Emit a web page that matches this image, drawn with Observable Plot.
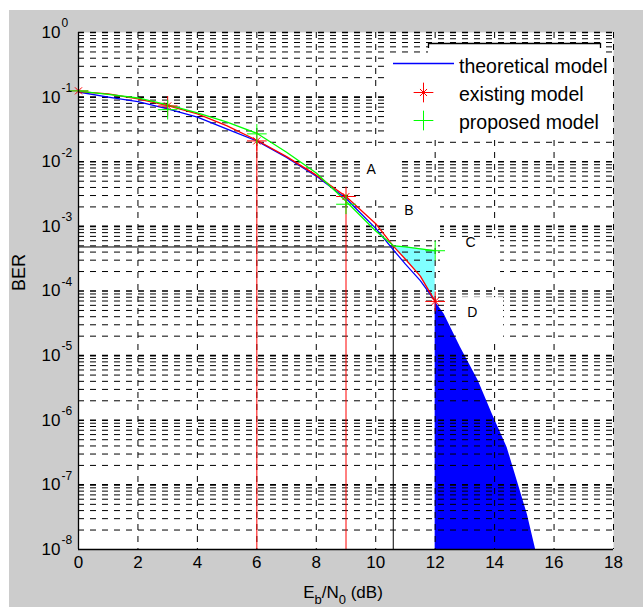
<!DOCTYPE html>
<html>
<head>
<meta charset="utf-8">
<script src="https://cdn.jsdelivr.net/npm/d3@7"></script>
<script src="https://cdn.jsdelivr.net/npm/@observablehq/plot@0.6"></script>
<style>
html, body { margin: 0; padding: 0; background: #ffffff; }
#chart { position: absolute; left: 9px; top: 10px; }
</style>
</head>
<body>
<div id="chart"></div>
<script>
// ---------- data ----------
const xTicks = [0, 2, 4, 6, 8, 10, 12, 14, 16, 18];
const yExponents = [0, -1, -2, -3, -4, -5, -6, -7, -8];

const snr = [0, 1, 2, 3, 4, 5, 6, 7, 8, 9, 10, 10.6, 11, 11.5, 12];
const theoretical = [0.12, 0.1, 0.085, 0.066, 0.049, 0.032, 0.021, 0.0117, 0.006, 0.0027, 0.00093, 0.00043, 0.00026, 0.000145, 0.00007];
const existing = [0.122, 0.112, 0.094, 0.074, 0.055, 0.036, 0.0215, 0.012, 0.0062, 0.0029, 0.0011, 0.00049, 0.00031, 0.00017, 0.000069];
const proposed = [0.124, 0.11, 0.097, 0.076, 0.057, 0.041, 0.0276, 0.014, 0.0067, 0.00245, 0.00085, 0.0005, 0.00048, 0.00045, 0.00042];

const markerSnr = [0, 3, 6, 9, 12];
const existingMarkers = [0.125, 0.073, 0.021, 0.0029, 0.000069];
const proposedMarkers = [0.125, 0.064, 0.027, 0.0022, 0.00042];

const thresholdSnr = 10.59;
const thresholdBER = 0.00048;
const dropSnr = [6, 9];
const dropBER = [0.021, 0.0029];

const gapSnr = [10.6, 11, 11.5, 12];
const gapLow = [0.00049, 0.00031, 0.00017, 0.000069];
const gapHigh = [0.0005, 0.00048, 0.00045, 0.00042];

const tailSnr = [12, 12.3, 12.85, 13.45, 13.92, 14.42, 14.76, 15.1, 15.38];
const tailBER = [6.9e-5, 4.4e-5, 1.35e-5, 4.1e-6, 1.25e-6, 3.8e-7, 1.16e-7, 3.5e-8, 1e-8];

const pointLabels = ["A", "B", "C", "D"];
const labelSnr = [9.85, 11.12, 13.19, 13.25];
const labelBER = [0.0075, 0.00173, 0.000557, 0.0000468];
const labelBoxX1 = [9.56, 10.83, 12.18, 12.92];
const labelBoxX2 = [10.83, 12.18, 14.2, 14.3];
const labelBoxTop = [0.0139, 0.00279, 0.000646, 0.000079];
const labelBoxBottom = [0.0025, 0.000603, 0.000113, 0.000017];

const legendLabels = ["theoretical model", "existing model", "proposed model"];

// ---------- derived tables ----------
const curve = (xs, ys) => xs.map((x, i) => ({x, y: ys[i]}));
const theoData = curve(snr, theoretical);
const existData = curve(snr, existing);
const propData = curve(snr, proposed);
const existMk = curve(markerSnr, existingMarkers);
const propMk = curve(markerSnr, proposedMarkers);
const drops = curve(dropSnr, dropBER);
const gapData = gapSnr.map((x, i) => ({x, lo: gapLow[i], hi: gapHigh[i]}));
const tailData = curve(tailSnr, tailBER);
const labels = pointLabels.map((t, i) => ({t, x: labelSnr[i], y: labelBER[i],
  x1: labelBoxX1[i], x2: labelBoxX2[i], y1: labelBoxBottom[i], y2: labelBoxTop[i]}));

const decades = yExponents.map(e => 10 ** e);
const minorBER = [];
for (const e of yExponents.slice(1)) for (let k = 2; k <= 9; k++) minorBER.push(k * 10 ** e);
const bottomBER = decades[decades.length - 1];

const dash = "6,6";
const font = "'Liberation Sans', Arial, sans-serif";

const chart = Plot.plot({
  width: 634,
  height: 597,
  marginLeft: 69,
  marginTop: 22,
  marginRight: 30,
  marginBottom: 58,
  style: {background: "#cccccc", fontFamily: font, fontSize: "17px", color: "#000", overflow: "visible"},
  x: {domain: [0, 18], axis: null},
  y: {type: "log", domain: [bottomBER, 1], axis: null},
  marks: [
    Plot.frame({fill: "white", stroke: null}),
    // shaded regions
    Plot.areaY(gapData, {x: "x", y1: "lo", y2: "hi", fill: "#80ffff", curve: "linear"}),
    Plot.areaY(tailData, {x: "x", y1: () => bottomBER, y2: "y", fill: "#0000ff", curve: "linear"}),
    // grid
    Plot.ruleY(minorBER, {stroke: "#000", strokeWidth: 1, strokeDasharray: dash}),
    Plot.ruleY(decades.slice(0, -1), {stroke: "#000", strokeWidth: 1.6, strokeDasharray: dash}),
    Plot.ruleX(xTicks.slice(1), {stroke: "#000", strokeWidth: 1, strokeDasharray: dash}),
    // white label boxes
    Plot.rect(labels, {x1: "x1", x2: "x2", y1: "y1", y2: "y2", fill: "white"}),
    // reference lines
    Plot.ruleY([thresholdBER], {x1: 0, x2: thresholdSnr, stroke: "#000", strokeWidth: 1}),
    Plot.ruleX([thresholdSnr], {y1: thresholdBER, y2: bottomBER, stroke: "#000", strokeWidth: 1}),
    Plot.ruleX(drops, {x: "x", y1: "y", y2: () => bottomBER, stroke: "#ff0000", strokeWidth: 1}),
    // curves
    Plot.line(theoData, {x: "x", y: "y", stroke: "#0000ff", strokeWidth: 1.3}),
    Plot.line(existData, {x: "x", y: "y", stroke: "#ff0000", strokeWidth: 1.3}),
    Plot.line(propData, {x: "x", y: "y", stroke: "#00ff00", strokeWidth: 1.3}),
    // markers
    Plot.dot(existMk, {x: "x", y: "y", symbol: "plus", r: 6.4, stroke: "#ff0000", strokeWidth: 1}),
    Plot.dot(existMk, {x: "x", y: "y", symbol: "times", r: 3.3, stroke: "#ff0000", strokeWidth: 1}),
    Plot.dot(propMk, {x: "x", y: "y", symbol: "plus", r: 6.4, stroke: "#00ff00", strokeWidth: 1}),
    // point labels
    Plot.text(labels, {x: "x", y: "y", text: "t", fontSize: 14, fill: "#000"}),
    // axis lines (left and bottom)
    Plot.ruleX([0], {stroke: "#000", strokeWidth: 1.3}),
    Plot.ruleY([bottomBER], {stroke: "#000", strokeWidth: 1.3}),
    // tick labels
    Plot.text(xTicks, {x: d => d, text: d => String(d), frameAnchor: "bottom", dy: 18, fontSize: 17, fill: "#000"}),
    Plot.text(yExponents, {y: e => 10 ** e, text: () => "10", frameAnchor: "left", textAnchor: "end", dx: -18, fontSize: 17, fill: "#000"}),
    Plot.text(yExponents, {y: e => 10 ** e, text: e => String(e), frameAnchor: "left", textAnchor: "start", dx: -17, dy: -9, fontSize: 12, fill: "#000"}),
    Plot.text(["BER"], {frameAnchor: "left", rotate: -90, dx: -59, fontSize: 18, fill: "#000"})
  ]
});
chart.style.maxWidth = "none";
document.getElementById("chart").appendChild(chart);

// ---------- x-axis label with subscripts ----------
const svg = d3.select(chart);
const ox = 9, oy = 10; // svg offset on the page
const xs = chart.scale("x");
const xl = svg.append("text")
  .attr("x", xs.apply(9) - 2.5)
  .attr("y", 598 - oy)
  .attr("text-anchor", "middle")
  .attr("font-family", font)
  .attr("font-size", 17)
  .attr("fill", "#000");
xl.append("tspan").text("E");
xl.append("tspan").attr("font-size", 13).attr("dy", 6).text("b");
xl.append("tspan").attr("dy", -6).text("/N");
xl.append("tspan").attr("font-size", 13).attr("dy", 6).text("0");
xl.append("tspan").attr("dy", -6).text(" (dB)");

// ---------- legend ----------
const lg = svg.append("g").attr("transform", `translate(${-ox},${-oy})`).attr("text-anchor", "start");
lg.append("rect").attr("x", 390).attr("y", 53).attr("width", 222).attr("height", 83).attr("fill", "white");
lg.append("rect").attr("x", 428).attr("y", 43).attr("width", 173).attr("height", 11).attr("fill", "white");
lg.append("path").attr("d", "M428.5,48V43.5H600.5V48").attr("fill", "none").attr("stroke", "#000").attr("stroke-width", 1.3);
lg.append("line").attr("x1", 393).attr("x2", 454).attr("y1", 63.5).attr("y2", 63.5).attr("stroke", "#0000ff").attr("stroke-width", 1.3);
const plusPath = d3.symbol().type(d3.symbolPlus).size(6.4 * 6.4 * Math.PI)();
const timesPath = d3.symbol().type(d3.symbolTimes).size(3.3 * 3.3 * Math.PI)();
lg.append("path").attr("d", plusPath).attr("transform", "translate(423.5,92.5)").attr("fill", "none").attr("stroke", "#ff0000");
lg.append("path").attr("d", timesPath).attr("transform", "translate(423.5,92.5)").attr("fill", "none").attr("stroke", "#ff0000");
lg.append("path").attr("d", plusPath).attr("transform", "translate(423.5,120.5)").attr("fill", "none").attr("stroke", "#00ff00");
const baselines = [72.5, 100.5, 128.5];
legendLabels.forEach((t, i) => {
  lg.append("text").attr("x", 459).attr("y", baselines[i]).attr("text-anchor", "start")
    .attr("font-family", font).attr("font-size", 19.5).attr("fill", "#000").text(t);
});
</script>
</body>
</html>
